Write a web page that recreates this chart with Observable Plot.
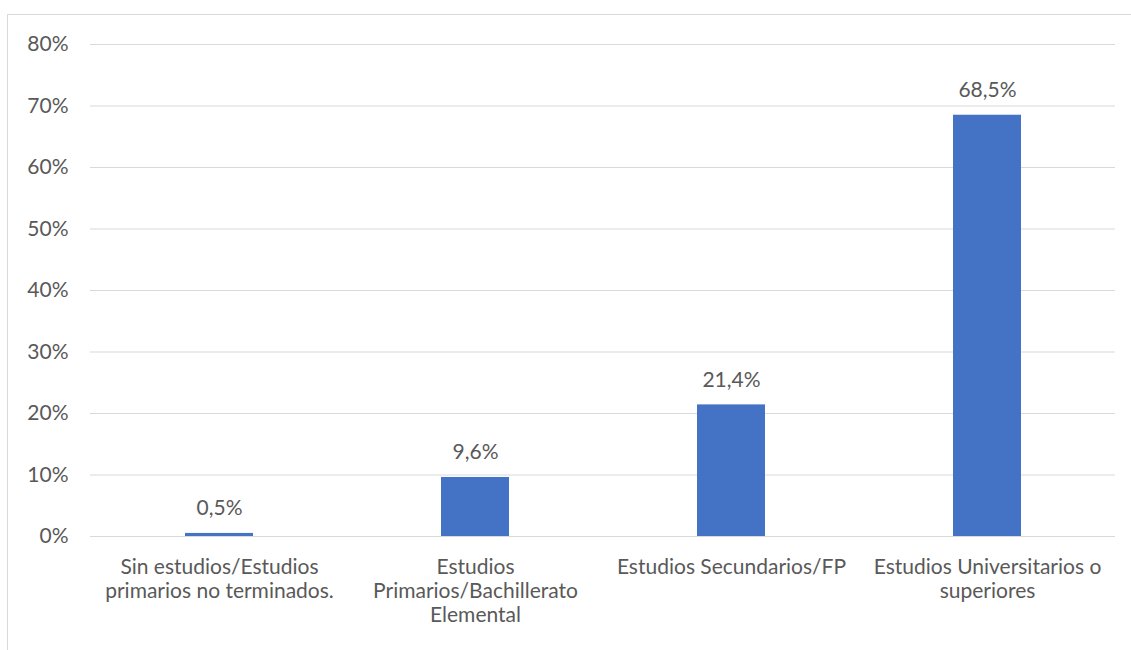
<!DOCTYPE html>
<html><head><meta charset="utf-8">
<script src="https://cdn.jsdelivr.net/npm/d3@7"></script>
<script src="https://cdn.jsdelivr.net/npm/@observablehq/plot@0.6"></script>
<style>
body{margin:0;background:#fff;}
#wrap{position:relative;width:1131px;height:650px;overflow:hidden;}
#frame{position:absolute;left:7px;top:14px;width:1140px;height:660px;border:1px solid #d9d9d9;box-sizing:border-box;}
#chart{position:absolute;left:0;top:0;}
</style></head>
<body>
<div id="wrap"><div id="frame"></div><div id="chart"></div></div>
<script>
const categories = [
  "Sin estudios/Estudios\nprimarios no terminados.",
  "Estudios\nPrimarios/Bachillerato\nElemental",
  "Estudios Secundarios/FP",
  "Estudios Universitarios o\nsuperiores"
];
const values = [0.5, 9.6, 21.4, 68.5];
const valueLabels = ["0,5%", "9,6%", "21,4%", "68,5%"];
const yTicks = [0, 10, 20, 30, 40, 50, 60, 70, 80];

const data = categories.map((c, i) => ({cat: c, v: values[i], label: valueLabels[i]}));
const font = "Lato, 'Open Sans', sans-serif";

const chart = Plot.plot({
  width: 1131,
  height: 650,
  marginLeft: 90,
  marginRight: 16,
  marginTop: 44,
  marginBottom: 114,
  style: {fontFamily: font, fontSize: "21px", color: "#595959", background: "transparent"},
  x: {domain: categories, paddingInner: 0.735, paddingOuter: 0.3675, label: null},
  y: {domain: [0, 80], label: null},
  marks: [
    Plot.gridY(yTicks, {stroke: "#d9d9d9", strokeOpacity: 1}),
    Plot.barY(data, {x: "cat", y: "v", fill: "#4472C4"}),
    Plot.text(data, {x: "cat", y: "v", text: "label", dy: -25, fontSize: 21, fill: "#595959"}),
    Plot.axisY(yTicks, {tickSize: 0, tickPadding: 22, tickFormat: d => d + "%", fontSize: 21, fill: "#595959", label: null}),
    Plot.axisX({tickSize: 0, tickPadding: 20, fontSize: 21, fill: "#595959", lineHeight: 1.15, label: null, tickFormat: d => d})
  ]
});
document.getElementById("chart").appendChild(chart);
</script>
</body></html>
